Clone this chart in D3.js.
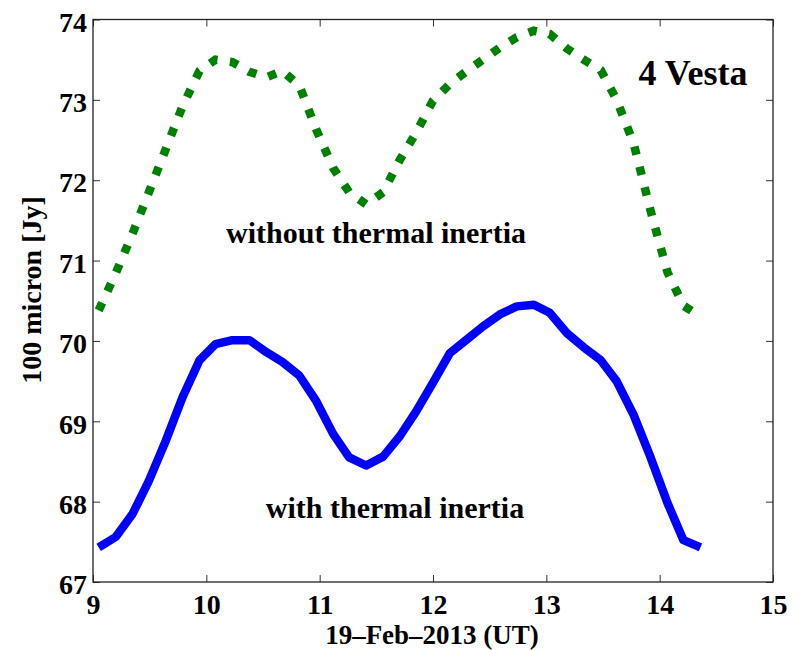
<!DOCTYPE html>
<html>
<head>
<meta charset="utf-8">
<script src="https://cdn.jsdelivr.net/npm/d3@7"></script>
<style>
  body { margin: 0; background: #fff; }
  text { font-family: "Liberation Serif", "Times New Roman", serif; font-weight: bold; fill: #000; }
</style>
</head>
<body>
<svg width="805" height="650"></svg>
<script>
// thời gian (ngày 19-Feb-2013, giờ UT)
const hours = [9.05, 9.20, 9.35, 9.49, 9.64, 9.79, 9.94, 10.08, 10.23, 10.38, 10.53, 10.67,
  10.82, 10.97, 11.12, 11.26, 11.41, 11.56, 11.71, 11.85, 12.00, 12.15, 12.30, 12.44,
  12.59, 12.74, 12.89, 13.03, 13.18, 13.33, 13.48, 13.62, 13.77, 13.92, 14.07, 14.21, 14.36];

// có quán tính nhiệt
const withTI = [67.43, 67.56, 67.85, 68.25, 68.75, 69.30, 69.76, 69.96, 70.01, 70.01, 69.86, 69.74,
  69.57, 69.25, 68.84, 68.55, 68.45, 68.56, 68.82, 69.12, 69.48, 69.85, 70.02, 70.18,
  70.33, 70.43, 70.45, 70.35, 70.10, 69.92, 69.76, 69.50, 69.08, 68.55, 67.98, 67.52, 67.43];

// không có quán tính nhiệt
const withoutTI = [70.38, 70.84, 71.34, 71.84, 72.38, 72.92, 73.36, 73.50, 73.47, 73.35, 73.28, 73.36,
  73.18, 72.63, 72.15, 71.85, 71.70, 71.85, 72.26, 72.59, 72.99, 73.20, 73.36, 73.50,
  73.65, 73.78, 73.86, 73.82, 73.64, 73.50, 73.37, 73.00, 72.46, 71.62, 70.85, 70.44, 70.30];

const xTicks = [9, 10, 11, 12, 13, 14, 15];
const yTicks = [67, 68, 69, 70, 71, 72, 73, 74];

const svg = d3.select("svg");
const margin = { top: 19.5, right: 32, bottom: 68, left: 93 };
const width = +svg.attr("width") - margin.left - margin.right;
const height = +svg.attr("height") - margin.top - margin.bottom;
const chart = svg.append("g").attr("transform", `translate(${margin.left},${margin.top})`);

const x = d3.scaleLinear().domain([9, 15]).range([0, width]);
const y = d3.scaleLinear().domain([67, 74]).range([height, 0]);
const fmt = d3.format("d");

// trục (ticks hướng vào trong, kiểu MATLAB)
const tickLen = 7;
chart.append("g")
  .attr("transform", `translate(0,${height})`)
  .call(d3.axisBottom(x).tickValues(xTicks).tickFormat(fmt).tickSizeInner(-tickLen).tickSizeOuter(0))
  .call(g => g.selectAll("text").attr("font-size", "28px").attr("y", 32).attr("dy", null));
chart.append("g")
  .call(d3.axisTop(x).tickValues(xTicks).tickSizeInner(-tickLen).tickSizeOuter(0).tickFormat(""));
chart.append("g")
  .call(d3.axisLeft(y).tickValues(yTicks).tickFormat(fmt).tickSizeInner(-tickLen).tickSizeOuter(0))
  .call(g => g.selectAll("text").attr("font-size", "28px").attr("x", -6).attr("dy", "0.42em"));
chart.append("g")
  .attr("transform", `translate(${width},0)`)
  .call(d3.axisRight(y).tickValues(yTicks).tickSizeInner(-tickLen).tickSizeOuter(0).tickFormat(""));

chart.selectAll(".domain").remove();
chart.selectAll(".tick line").attr("stroke", "#333").attr("stroke-width", 1);
chart.append("rect")
  .attr("width", width)
  .attr("height", height)
  .attr("fill", "none")
  .attr("stroke", "#222")
  .attr("stroke-width", 1.3);

const line = d3.line()
  .x((d, i) => x(hours[i]))
  .y(d => y(d));

// đường xanh lá (chấm)
chart.append("path")
  .datum(withoutTI)
  .attr("d", line)
  .attr("fill", "none")
  .attr("stroke", "#008000")
  .attr("stroke-width", 8.5)
  .attr("stroke-dasharray", "8.5,12.5");

// đường xanh dương
chart.append("path")
  .datum(withTI)
  .attr("d", line)
  .attr("fill", "none")
  .attr("stroke", "#0000ff")
  .attr("stroke-width", 8.5)
  .attr("stroke-linejoin", "round");

// chú thích
svg.append("text")
  .attr("x", 376).attr("y", 243)
  .attr("text-anchor", "middle")
  .attr("font-size", "30px")
  .text("without thermal inertia");
svg.append("text")
  .attr("x", 395).attr("y", 518)
  .attr("text-anchor", "middle")
  .attr("font-size", "30px")
  .text("with thermal inertia");
svg.append("text")
  .attr("x", 693).attr("y", 85)
  .attr("text-anchor", "middle")
  .attr("font-size", "36px")
  .text("4 Vesta");

// tên trục x
svg.append("text")
  .attr("x", 432).attr("y", 644)
  .attr("text-anchor", "middle")
  .attr("font-size", "27px")
  .text("19\u2013Feb\u20132013 (UT)");
// tên trục y
svg.append("text")
  .attr("transform", "rotate(-90)")
  .attr("x", -290).attr("y", 41)
  .attr("text-anchor", "middle")
  .attr("font-size", "28px")
  .text("100 micron [Jy]");
</script>
</body>
</html>
